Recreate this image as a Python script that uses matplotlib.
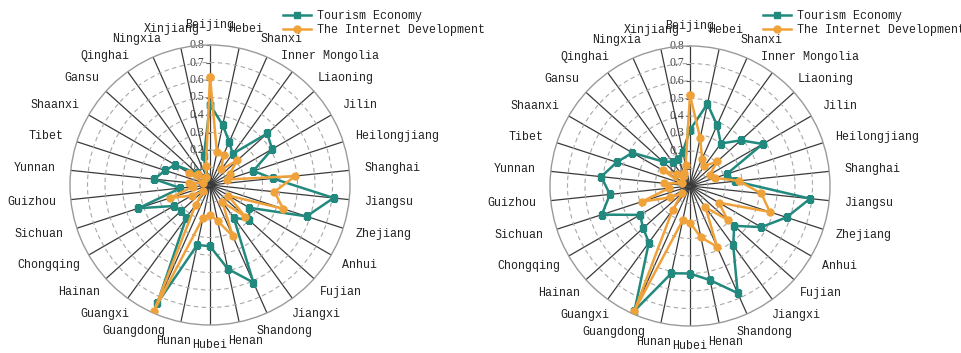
import numpy as np
import matplotlib.pyplot as plt
from matplotlib.lines import Line2D

plt.rcParams['font.family'] = ['Liberation Serif', 'DejaVu Serif']
label_font = ['Liberation Mono', 'DejaVu Sans Mono']

provinces = ['Beijing', 'Hebei', 'Shanxi', 'Inner Mongolia', 'Liaoning', 'Jilin',
             'Heilongjiang', 'Shanghai', 'Jiangsu', 'Zhejiang', 'Anhui', 'Fujian',
             'Jiangxi', 'Shandong', 'Henan', 'Hubei', 'Hunan', 'Guangdong', 'Guangxi',
             'Hainan', 'Chongqing', 'Sichuan', 'Guizhou', 'Yunnan', 'Tibet', 'Shaanxi',
             'Gansu', 'Qinghai', 'Ningxia', 'Xinjiang']

# left panel
tourism_a = [0.46, 0.35, 0.27, 0.22, 0.44, 0.41, 0.26, 0.36, 0.71, 0.58,
             0.26, 0.30, 0.23, 0.61, 0.49, 0.35, 0.35, 0.74, 0.23, 0.22,
             0.24, 0.43, 0.17, 0.32, 0.27, 0.23, 0.10, 0.05, 0.05, 0.17]
internet_a = [0.62, 0.19, 0.19, 0.11, 0.21, 0.13, 0.10, 0.49, 0.37, 0.44,
              0.12, 0.27, 0.12, 0.32, 0.21, 0.17, 0.19, 0.79, 0.14, 0.05,
              0.12, 0.24, 0.10, 0.12, 0.04, 0.14, 0.09, 0.05, 0.05, 0.11]

# right panel
tourism_b = [0.32, 0.48, 0.38, 0.30, 0.39, 0.48, 0.22, 0.26, 0.69, 0.58,
             0.47, 0.34, 0.42, 0.67, 0.55, 0.50, 0.51, 0.78, 0.40, 0.36,
             0.33, 0.53, 0.46, 0.51, 0.44, 0.38, 0.21, 0.17, 0.17, 0.20]
internet_b = [0.52, 0.28, 0.17, 0.14, 0.21, 0.13, 0.15, 0.28, 0.41, 0.48,
              0.19, 0.29, 0.15, 0.38, 0.30, 0.21, 0.20, 0.78, 0.17, 0.06,
              0.13, 0.29, 0.12, 0.15, 0.05, 0.18, 0.10, 0.07, 0.08, 0.12]

radial_ticks = [0, 0.1, 0.2, 0.3, 0.4, 0.5, 0.6, 0.7, 0.8]
series_names = ['Tourism Economy', 'The Internet Development']

teal = '#22897f'
orange = '#f0a23a'
txt = '#222222'

n = len(provinces)
angles = np.arange(n) * 2 * np.pi / n

fig = plt.figure(figsize=(9.61, 3.53), dpi=100)
cat_labels = []


def radar(rect, tourism, internet):
    ax = fig.add_axes(rect, projection='polar')
    ax.set_theta_zero_location('N')
    ax.set_theta_direction(-1)
    ax.set_ylim(0, 0.8)
    ax.set_xticks(angles)
    ax.set_xticklabels([])
    ax.set_yticks(radial_ticks[1:-1])
    ax.set_yticklabels([])
    ax.xaxis.grid(False)
    ax.yaxis.grid(True, color='#a8a8a8', linestyle=(0, (4, 3)), linewidth=0.8)
    ax.spines['polar'].set_color('#9a9a9a')
    ax.spines['polar'].set_linewidth(1.0)

    # spokes
    for a in angles:
        ax.plot([a, a], [0, 0.8], color='#3a3a3a', lw=0.9, zorder=1)

    # radial scale along the first spoke
    ax.plot(np.zeros(len(radial_ticks)), radial_ticks, ls='none', marker=0,
            ms=3, mew=0.8, color='#555555', clip_on=False, zorder=2)
    for r in radial_ticks:
        ax.annotate(f'{r:g}', xy=(0, r), xytext=(-4, 0), textcoords='offset points',
                    ha='right', va='center', fontsize=8.5, color='#444444',
                    annotation_clip=False, zorder=2)

    th = np.append(angles, angles[0])
    t = np.append(tourism, tourism[0])
    i = np.append(internet, internet[0])
    ax.plot(th, t, color=teal, lw=1.8, marker='s', ms=4.5, zorder=3)
    ax.plot(th, i, color=orange, lw=1.8, marker='o', ms=5, zorder=4)

    for a, name in zip(angles, provinces):
        lab = ax.annotate(name, xy=(a, 0.886), xytext=(0, 0), textcoords='offset pixels',
                          ha='center', va='center', fontsize=8.4, color=txt,
                          family=label_font, annotation_clip=False)
        cat_labels.append((lab, a))
    return ax


radar([70 / 961, 28 / 353, 280 / 961, 280 / 353], tourism_a, internet_a)
radar([550 / 961, 27 / 353, 280 / 961, 280 / 353], tourism_b, internet_b)

handles = [Line2D([], [], color=teal, lw=1.8, marker='s', ms=4.5),
           Line2D([], [], color=orange, lw=1.8, marker='o', ms=5)]
for x0 in (283 / 961, 763 / 961):
    fig.legend(handles, series_names, loc='upper left', bbox_to_anchor=(x0, 0.972),
               bbox_transform=fig.transFigure, frameon=False,
               prop={'family': label_font, 'size': 8.4},
               handlelength=2.4, handletextpad=0.5, labelspacing=0.15,
               borderpad=0, borderaxespad=0, labelcolor=txt)

# push each province label outward so its near edge sits on the label circle
fig.canvas.draw()
renderer = fig.canvas.get_renderer()
for lab, a in cat_labels:
    bb = lab.get_window_extent(renderer)
    lab.xyann = (np.sin(a) * bb.width / 2, np.cos(a) * bb.height * 0.4)

fig.savefig('out.png', dpi=100, facecolor='white')
